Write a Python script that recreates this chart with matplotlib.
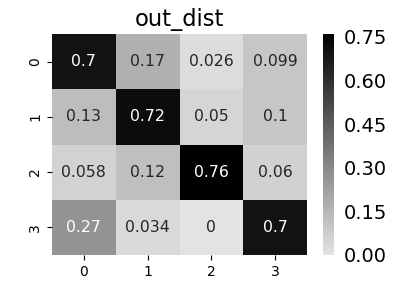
import numpy as np
import matplotlib
matplotlib.use('Agg')
import matplotlib.pyplot as plt
from matplotlib.colors import LinearSegmentedColormap
import seaborn as sns

# row/column labels and cell values
labels = ['0', '1', '2', '3']
row0 = [0.7, 0.17, 0.026, 0.099]
row1 = [0.13, 0.72, 0.05, 0.1]
row2 = [0.058, 0.12, 0.76, 0.06]
row3 = [0.27, 0.034, 0.0, 0.7]
cbar_ticks = [0.0, 0.15, 0.30, 0.45, 0.60, 0.75]

values = np.array([row0, row1, row2, row3])

cmap = LinearSegmentedColormap.from_list('grey_to_black', ['#e3e3e3', '#000000'])

fig = plt.figure(figsize=(4.12, 2.86), dpi=100)
ax = fig.add_axes([52 / 412, 1 - 255 / 286, 255 / 412, 221 / 286])
cax = fig.add_axes([323 / 412, 1 - 255 / 286, 11 / 412, 221 / 286])

sns.heatmap(values, annot=True, cmap=cmap, vmin=0, vmax=values.max(),
            ax=ax, cbar_ax=cax, annot_kws={'fontsize': 11.3},
            xticklabels=labels, yticklabels=labels,
            cbar_kws={'ticks': cbar_ticks})

ax.set_title('out_dist', fontsize=16.3)
ax.tick_params(axis='both', labelsize=10)
ax.set_yticklabels(labels, rotation=90, va='center')
ax.set_xticklabels(labels, rotation=0)

cax.tick_params(labelsize=14, length=0, pad=7)
cax.set_yticklabels(['%.2f' % t for t in cbar_ticks])

fig.savefig('out.png', dpi=100)
